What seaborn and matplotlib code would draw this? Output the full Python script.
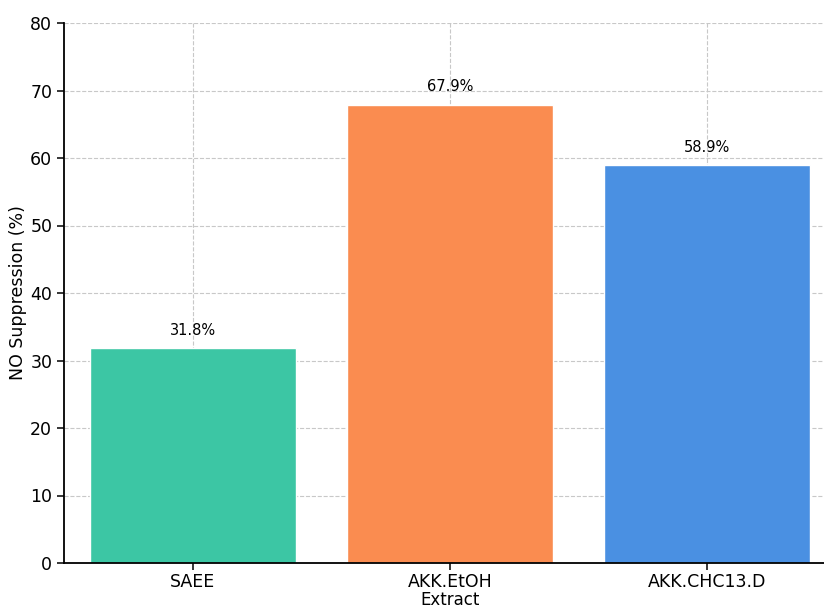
import matplotlib
matplotlib.use("Agg")
import matplotlib.pyplot as plt
import seaborn as sns
import pandas as pd

# Extract names and their nitric-oxide suppression values
extracts = ["SAEE", "AKK.EtOH", "AKK.CHC13.D"]
suppression = [31.8, 67.9, 58.9]
bar_colors = ["#3cc6a4", "#fa8c50", "#4a90e2"]

df = pd.DataFrame({"Extract": extracts, "NO Suppression (%)": suppression})

sns.set_style("ticks")
plt.rcParams["font.family"] = ["DejaVu Sans"]
plt.rcParams["text.color"] = "black"
plt.rcParams["axes.labelcolor"] = "black"
plt.rcParams["xtick.color"] = "black"
plt.rcParams["ytick.color"] = "black"

fig = plt.figure(figsize=(8.24, 6.08), dpi=100)
# axes runs past the right edge of the canvas
ax = fig.add_axes([64 / 824, 45 / 608, 772 / 824, 540 / 608])

sns.barplot(data=df, x="Extract", y="NO Suppression (%)", hue="Extract",
            palette=bar_colors, legend=False, width=0.8, saturation=1, ax=ax)

ax.set_ylim(0, 80)
ax.set_xlim(-0.5, 2.5)
ax.grid(True, linestyle="--", color="#c8c8c8", linewidth=0.8)
ax.set_axisbelow(True)

for i, v in enumerate(suppression):
    ax.text(i, v + 1.6, f"{v}%", ha="center", va="bottom", fontsize=10.5)

ax.tick_params(axis="both", labelsize=12.5, length=5, width=1.1)
ax.tick_params(axis="x", pad=2)
ax.set_xlabel("Extract", fontsize=12, labelpad=0)
ax.set_ylabel("NO Suppression (%)", fontsize=12.5, labelpad=2)
for side in ("top", "right"):
    ax.spines[side].set_visible(False)
for side in ("left", "bottom"):
    ax.spines[side].set_linewidth(1.3)
    ax.spines[side].set_color("black")

fig.savefig("out.png", dpi=100)
